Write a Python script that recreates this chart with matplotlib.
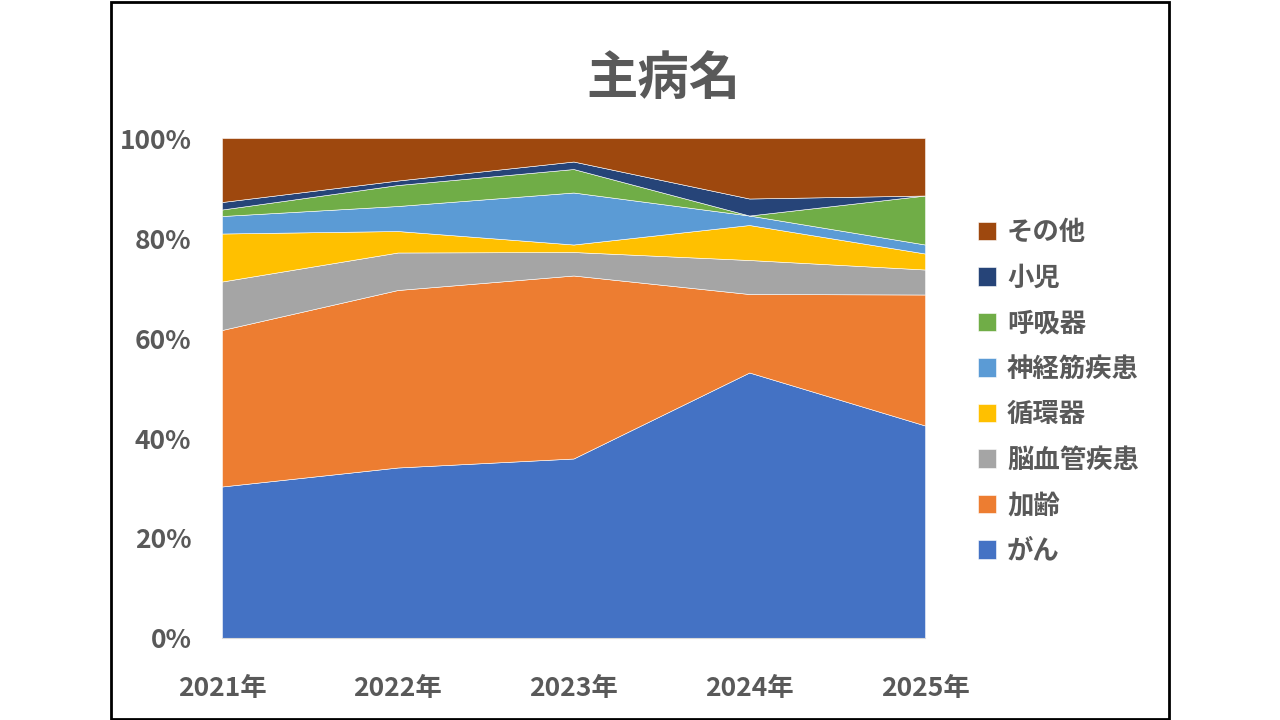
import matplotlib.pyplot as plt
from matplotlib.patches import Rectangle
from matplotlib.ticker import PercentFormatter

plt.rcParams['font.family'] = ['Noto Sans CJK JP', 'DejaVu Sans']

# Years on the x axis.
YEARS = ["2021年", "2022年", "2023年", "2024年", "2025年"]

# Share of each main disease (percent).
CANCER = [30.3, 34.1, 35.9, 53.1, 42.5]
AGING = [31.3, 35.5, 36.6, 15.7, 26.2]
CEREBRO = [9.7, 7.5, 4.7, 6.8, 5.0]
CIRCULATORY = [9.6, 4.3, 1.5, 7.0, 3.2]
NEUROMUSCULAR = [3.5, 5.0, 10.4, 1.9, 1.8]
RESPIRATORY = [1.3, 4.2, 4.7, 0.0, 9.8]
PEDIATRIC = [1.5, 0.9, 1.5, 3.4, 0.0]
OTHER = [12.8, 8.5, 4.7, 12.1, 11.5]

SERIES = [
    ("がん", CANCER, "#4472C4"),
    ("加齢", AGING, "#ED7D31"),
    ("脳血管疾患", CEREBRO, "#A5A5A5"),
    ("循環器", CIRCULATORY, "#FFC000"),
    ("神経筋疾患", NEUROMUSCULAR, "#5B9BD5"),
    ("呼吸器", RESPIRATORY, "#70AD47"),
    ("小児", PEDIATRIC, "#264478"),
    ("その他", OTHER, "#9E480E"),
]

TEXT_COLOR = "#595959"


def main():
    fig = plt.figure(figsize=(12.8, 7.2), dpi=100)
    ax = fig.add_axes([0.1734, 0.1139, 0.5493, 0.6944])

    xs = list(range(len(YEARS)))
    polys = ax.stackplot(xs, *[s[1] for s in SERIES],
                         labels=[s[0] for s in SERIES],
                         colors=[s[2] for s in SERIES],
                         edgecolor="white", linewidth=0.4)

    ax.set_xlim(0, len(YEARS) - 1)
    ax.set_ylim(0, 100)
    ax.set_xticks(xs)
    ax.set_xticklabels(YEARS)
    ax.set_yticks(range(0, 101, 20))
    ax.yaxis.set_major_formatter(PercentFormatter(decimals=0))
    ax.tick_params(length=0, labelsize=19, labelcolor=TEXT_COLOR)
    ax.tick_params(axis="x", pad=27)
    ax.tick_params(axis="y", pad=22)
    for lbl in ax.get_xticklabels() + ax.get_yticklabels():
        lbl.set_fontweight("bold")

    for side in ["top", "right", "left"]:
        ax.spines[side].set_visible(False)
    ax.spines["bottom"].set_color("#D9D9D9")

    # Title
    fig.text(0.518, 0.891, "主病名", ha="center", va="center",
             fontsize=37, fontweight="bold", color=TEXT_COLOR)

    # Legend, reversed so その他 is on top.
    leg = ax.legend(polys[::-1], [s[0] for s in SERIES][::-1],
                    loc="center left", bbox_to_anchor=(0.764, 0.4556),
                    bbox_transform=fig.transFigure, frameon=False,
                    fontsize=19, handlelength=0.7, handleheight=0.7,
                    handletextpad=0.4, labelspacing=0.7, borderpad=0,
                    borderaxespad=0)
    for t in leg.get_texts():
        t.set_color(TEXT_COLOR)
        t.set_fontweight("bold")

    # Slide frame.
    fig.patches.append(Rectangle((111 / 1280, 1 / 720), 1058 / 1280, 717 / 720,
                                 transform=fig.transFigure, fill=False,
                                 edgecolor="black", linewidth=2))

    fig.savefig("out.png", dpi=100)


if __name__ == "__main__":
    main()
